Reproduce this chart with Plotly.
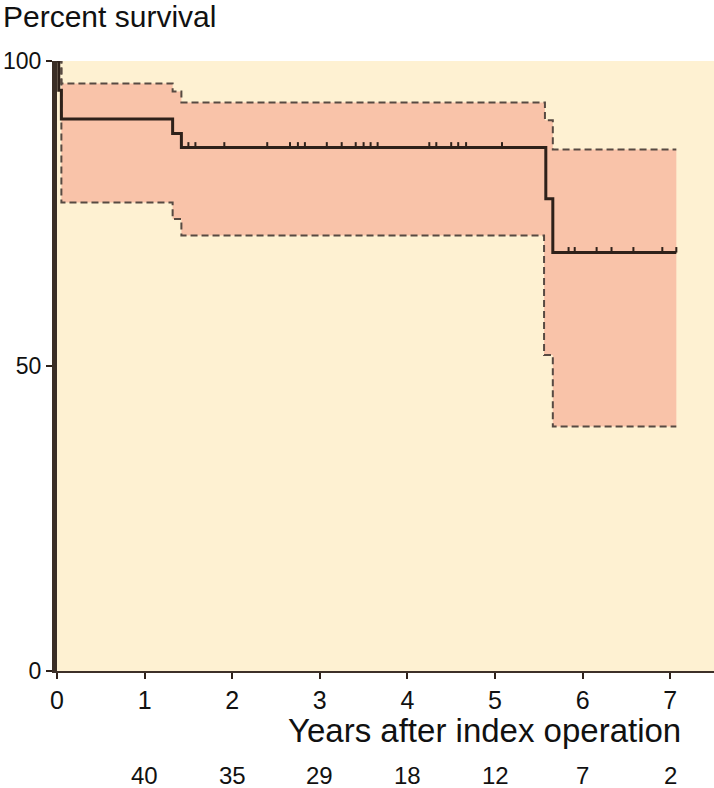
import plotly.graph_objects as go

# Kaplan-Meier estimate (years, percent)
surv_times = [0, 0.02, 0.05, 1.32, 1.42, 5.58, 5.66]
surv_vals = [100, 95.2, 90.5, 88.1, 85.8, 77.4, 68.6]
end_time = 7.07

upper_times = [0, 0.05, 1.32, 1.42, 5.57, 5.66]
upper_vals = [100, 96.3, 95.0, 93.2, 90.3, 85.5]

lower_times = [0, 0.05, 1.32, 1.42, 5.56, 5.66]
lower_vals = [100, 76.8, 74.1, 71.4, 51.8, 40.1]

censor_times = [1.50, 1.58, 1.91, 2.40, 2.66, 2.75, 2.83, 3.08, 3.25, 3.41,
                3.50, 3.58, 3.66, 4.25, 4.33, 4.50, 4.58, 4.67, 5.08,
                5.84, 5.91, 6.16, 6.33, 6.58, 6.91, 7.07]

risk_years = [1, 2, 3, 4, 5, 6, 7]
risk_counts = [40, 35, 29, 18, 12, 7, 2]

x_ticks = [0, 1, 2, 3, 4, 5, 6, 7]
y_ticks = [0, 50, 100]

FONT = "Liberation Sans, Arial, sans-serif"
DARK = "#2e211a"
DASH_COL = "#574a42"
FILL = "#f9c3a9"
BG = "#fef1d2"


def ext(times, vals):
    return list(times) + [end_time], list(vals) + [vals[-1]]


def step_at(t, times, vals):
    v = vals[0]
    for tt, vv in zip(times, vals):
        if t >= tt:
            v = vv
    return v


ux, uy = ext(upper_times, upper_vals)
lx, ly = ext(lower_times, lower_vals)
sx, sy = ext(surv_times, surv_vals)

fig = go.Figure()
fig.add_trace(go.Scatter(x=lx, y=ly, mode="lines", line=dict(width=0, shape="hv"),
                         hoverinfo="skip", showlegend=False))
fig.add_trace(go.Scatter(x=ux, y=uy, mode="lines", line=dict(width=0, shape="hv"),
                         fill="tonexty", fillcolor=FILL, hoverinfo="skip", showlegend=False))
fig.add_trace(go.Scatter(x=lx, y=ly, mode="lines",
                         line=dict(color=DASH_COL, width=2, dash="7px,4px", shape="hv"),
                         showlegend=False))
fig.add_trace(go.Scatter(x=ux, y=uy, mode="lines",
                         line=dict(color=DASH_COL, width=2, dash="7px,4px", shape="hv"),
                         showlegend=False))
fig.add_trace(go.Scatter(x=sx, y=sy, mode="lines",
                         line=dict(color=DARK, width=3, shape="hv"), showlegend=False))

cx, cy = [], []
for t in censor_times:
    s = step_at(t, surv_times, surv_vals)
    cx += [t, t, None]
    cy += [s, s + 0.9, None]
fig.add_trace(go.Scatter(x=cx, y=cy, mode="lines", line=dict(color=DARK, width=2),
                         showlegend=False))

annotations = [
    dict(text="Percent survival", xref="paper", yref="paper", x=-0.085, y=1.073,
         xanchor="left", yanchor="middle", showarrow=False,
         font=dict(family=FONT, size=30, color="#111")),
    dict(text="Years after index operation", xref="paper", yref="paper", x=0.65, y=-0.097,
         xanchor="center", yanchor="middle", showarrow=False,
         font=dict(family=FONT, size=33, color="#111")),
]
for yr, n in zip(risk_years, risk_counts):
    annotations.append(dict(text=str(n), xref="x", yref="paper", x=yr, y=-0.172,
                            xanchor="center", yanchor="middle", showarrow=False,
                            font=dict(family=FONT, size=24, color="#111")))

fig.update_layout(
    width=714, height=788,
    margin=dict(l=57, r=0, t=61, b=117),
    paper_bgcolor="white", plot_bgcolor=BG,
    annotations=annotations,
    xaxis=dict(range=[0, 7.5], tickvals=x_ticks, ticks="outside", ticklen=6, tickwidth=2,
               tickcolor=DARK, showline=True, linecolor="#3d3028", linewidth=2,
               showgrid=False, zeroline=False, fixedrange=True,
               tickfont=dict(family=FONT, size=25, color="#111")),
    yaxis=dict(range=[0, 100], tickvals=y_ticks, ticks="outside", ticklen=6, tickwidth=2,
               tickcolor=DARK, showline=True, linecolor="#3a2e26", linewidth=5,
               showgrid=False, zeroline=False, fixedrange=True,
               tickfont=dict(family=FONT, size=23, color="#111")),
)

fig.write_html("out.html", config={"displayModeBar": False},
               post_script="document.body.style.margin='0';document.body.style.overflow='hidden';")
